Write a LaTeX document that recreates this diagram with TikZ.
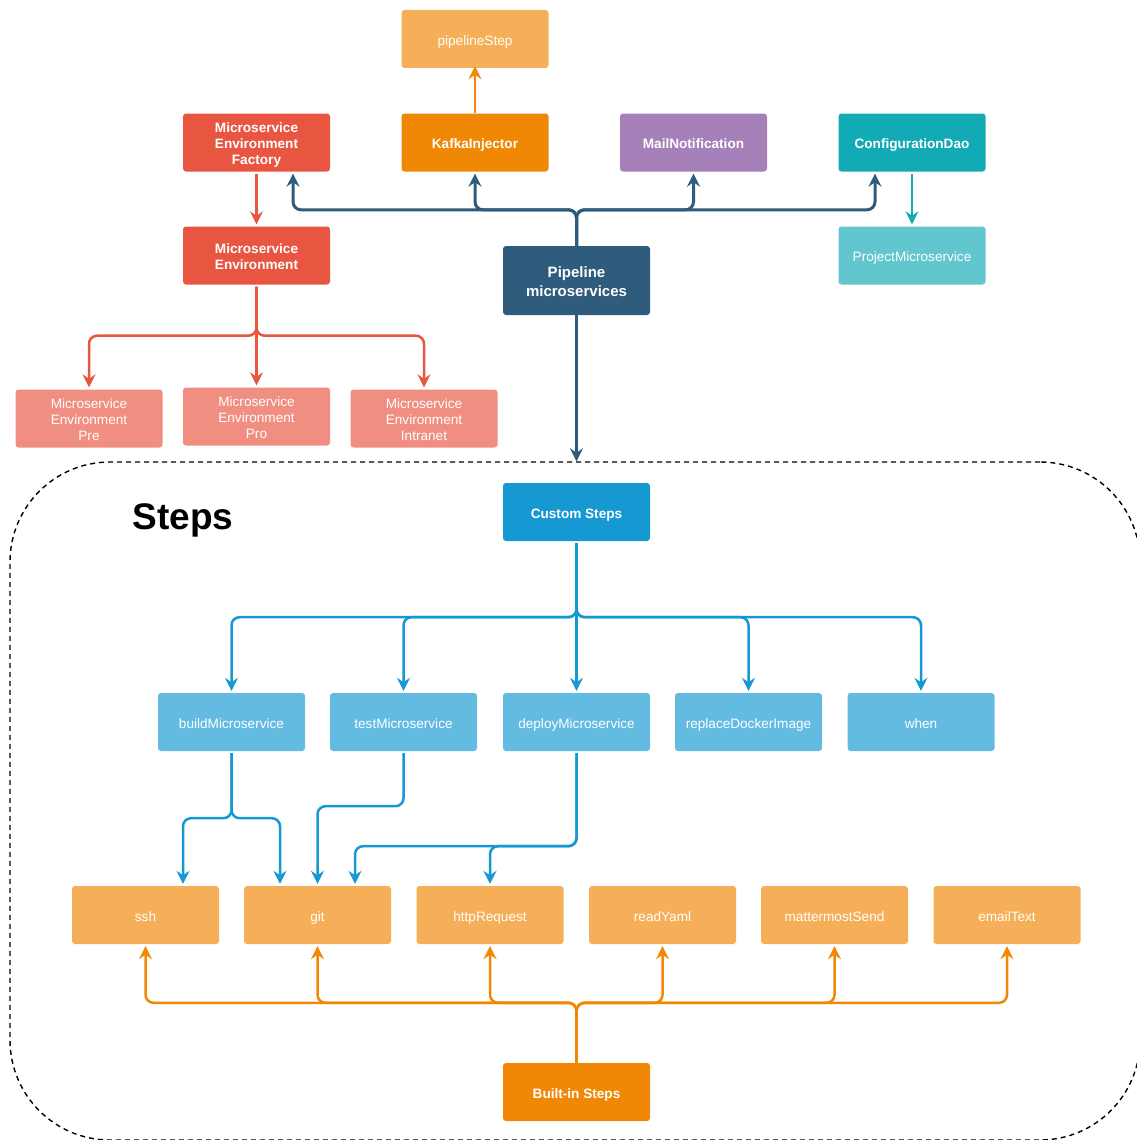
\documentclass[tikz,border=0pt]{standalone}
\usepackage{fontspec}
\setmainfont{Liberation Sans}
\usetikzlibrary{arrows.meta}

\definecolor{redDark}{HTML}{E85642}
\definecolor{redLight}{HTML}{F08E81}
\definecolor{orgDark}{HTML}{F08705}
\definecolor{orgLight}{HTML}{F5AF58}
\definecolor{purple}{HTML}{A680B8}
\definecolor{tealDark}{HTML}{12AAB5}
\definecolor{tealLight}{HTML}{61C6CE}
\definecolor{navy}{HTML}{2F5B7C}
\definecolor{blueDark}{HTML}{1699D3}
\definecolor{blueLight}{HTML}{64BBE2}

% box text: centred lines, lowered a little so the letters sit in the middle of the box
\newcommand\bx[2][-6.6pt]{\raisebox{#1}[0pt][0pt]{\begin{tabular}{@{}c@{}}#2\end{tabular}}}

\begin{document}
\begin{tikzpicture}[x=1pt,y=-1pt,
  box/.style={rectangle, rounded corners=3pt, minimum width=147pt, minimum height=58pt,
    inner sep=0pt, text=white, font=\fontsize{13.6}{16}\selectfont},
  boldbox/.style={box, font=\bfseries\fontsize{13.6}{16}\selectfont},
  arrowed/.style={-{Stealth[length=13pt,width=13pt,inset=4.5pt]}, line width=2.5pt,
    rounded corners=8pt},
  navyline/.style={arrowed, draw=navy, line width=3pt},
  redline/.style={arrowed, draw=redDark},
  orgline/.style={arrowed, draw=orgDark},
  tealline/.style={arrowed, draw=tealDark},
  blueline/.style={arrowed, draw=blueDark},
]
\useasboundingbox (0,0) rectangle (1137,1140);
\clip (0,0) rectangle (1137,1140);

% dashed container of the step nodes
\node[draw, dash pattern=on 5pt off 4pt, line width=1.4pt, rounded corners=100pt,
  minimum width=1130pt, minimum height=678pt, inner sep=0pt] (steps) at (575,801) {};
\node[font=\bfseries\fontsize{37}{40}\selectfont, anchor=center] (stepstitle) at (183,520) {Steps};

% upper part
\node[box, fill=orgLight] (pstep) at (475,39) {\bx{pipelineStep}};
\node[boldbox, fill=redDark] (fac) at (256.5,142.5) {\bx{Microservice\\Environment\\Factory}};
\node[boldbox, fill=orgDark] (kafka) at (475,142.5) {\bx{KafkaInjector}};
\node[boldbox, fill=purple] (mail) at (693.5,142.5) {\bx{MailNotification}};
\node[boldbox, fill=tealDark] (conf) at (912,142.5) {\bx{ConfigurationDao}};
\node[box, fill=tealLight] (proj) at (912,255.5) {\bx{ProjectMicroservice}};
\node[boldbox, fill=redDark] (env) at (256.5,255.5) {\bx{Microservice\\Environment}};
\node[boldbox, fill=navy, minimum height=69pt, font=\bfseries\fontsize{15}{19}\selectfont]
  (pm) at (576.5,280.5) {\bx[-6.2pt]{Pipeline\\microservices}};
\node[box, fill=redLight] (pre) at (89,418.5) {\bx{Microservice\\Environment\\Pre}};
\node[box, fill=redLight] (pro) at (256.5,416.5) {\bx{Microservice\\Environment\\Pro}};
\node[box, fill=redLight] (intra) at (424,418.5) {\bx{Microservice\\Environment\\Intranet}};

% custom steps
\node[boldbox, fill=blueDark] (cs) at (576.5,512) {\bx{Custom Steps}};
\node[box, fill=blueLight] (build) at (231.5,722) {\bx{buildMicroservice}};
\node[box, fill=blueLight] (test) at (403.5,722) {\bx{testMicroservice}};
\node[box, fill=blueLight] (deploy) at (576.5,722) {\bx{deployMicroservice}};
\node[box, fill=blueLight] (repl) at (748.5,722) {\bx{replaceDockerImage}};
\node[box, fill=blueLight] (when) at (921,722) {\bx{when}};

% built-in steps
\node[box, fill=orgLight] (ssh) at (145.5,915) {\bx{ssh}};
\node[box, fill=orgLight] (git) at (317.5,915) {\bx{git}};
\node[box, fill=orgLight] (http) at (490,915) {\bx{httpRequest}};
\node[box, fill=orgLight] (yaml) at (662.5,915) {\bx{readYaml}};
\node[box, fill=orgLight] (mm) at (834.5,915) {\bx{mattermostSend}};
\node[box, fill=orgLight] (mailtxt) at (1007,915) {\bx{emailText}};
\node[boldbox, fill=orgDark] (bis) at (576.5,1092) {\bx{Built-in Steps}};

% pipeline fan-out
\draw[navyline] (pm.north) -- ++(0,-36) -| ([xshift=36.5pt,yshift=-2pt]fac.south);
\draw[navyline] (pm.north) -- ++(0,-36) -| ([yshift=-2pt]kafka.south);
\draw[navyline] (pm.north) -- ++(0,-36) -| ([yshift=-2pt]mail.south);
\draw[navyline] (pm.north) -- ++(0,-36) -| ([xshift=-37pt,yshift=-2pt]conf.south);
\draw[navyline] (pm.south) -- (pm.south |- steps.north);

\draw[orgline] (kafka.north) -- ([yshift=2pt]pstep.south);
\draw[tealline] ([yshift=-2pt]conf.south) -- ([yshift=2pt]proj.north);

% environments
\draw[redline] ([yshift=-2pt]fac.south) -- ([yshift=2pt]env.north);
\draw[redline] ([yshift=-2pt]env.south) -- ++(0,49) -| ([yshift=2pt]pre.north);
\draw[redline] ([yshift=-2pt]env.south) -- ([yshift=2pt]pro.north);
\draw[redline] ([yshift=-2pt]env.south) -- ++(0,49) -| ([yshift=2pt]intra.north);

% custom steps fan-out
\foreach \t in {build,test,deploy,repl,when}
  \draw[blueline] ([yshift=-2pt]cs.south) -- ++(0,74) -| ([yshift=2pt]\t.north);

% custom steps using built-in steps
\draw[blueline] ([yshift=-2pt]build.south) -- ++(0,65) -| ([xshift=37.5pt,yshift=2pt]ssh.north);
\draw[blueline] ([yshift=-2pt]build.south) -- ++(0,65) -| ([xshift=-37.5pt,yshift=2pt]git.north);
\draw[blueline] ([yshift=-2pt]test.south) -- ++(0,53) -| ([yshift=2pt]git.north);
\draw[blueline] ([yshift=-2pt]deploy.south) -- ++(0,93) -| ([xshift=37.5pt,yshift=2pt]git.north);
\draw[blueline] ([yshift=-2pt]deploy.south) -- ++(0,93) -| ([yshift=2pt]http.north);

% built-in steps fan-out
\foreach \t in {ssh,git,http,yaml,mm,mailtxt}
  \draw[orgline] (bis.north) -- ++(0,-60) -| ([yshift=-2pt]\t.south);
\end{tikzpicture}
\end{document}
